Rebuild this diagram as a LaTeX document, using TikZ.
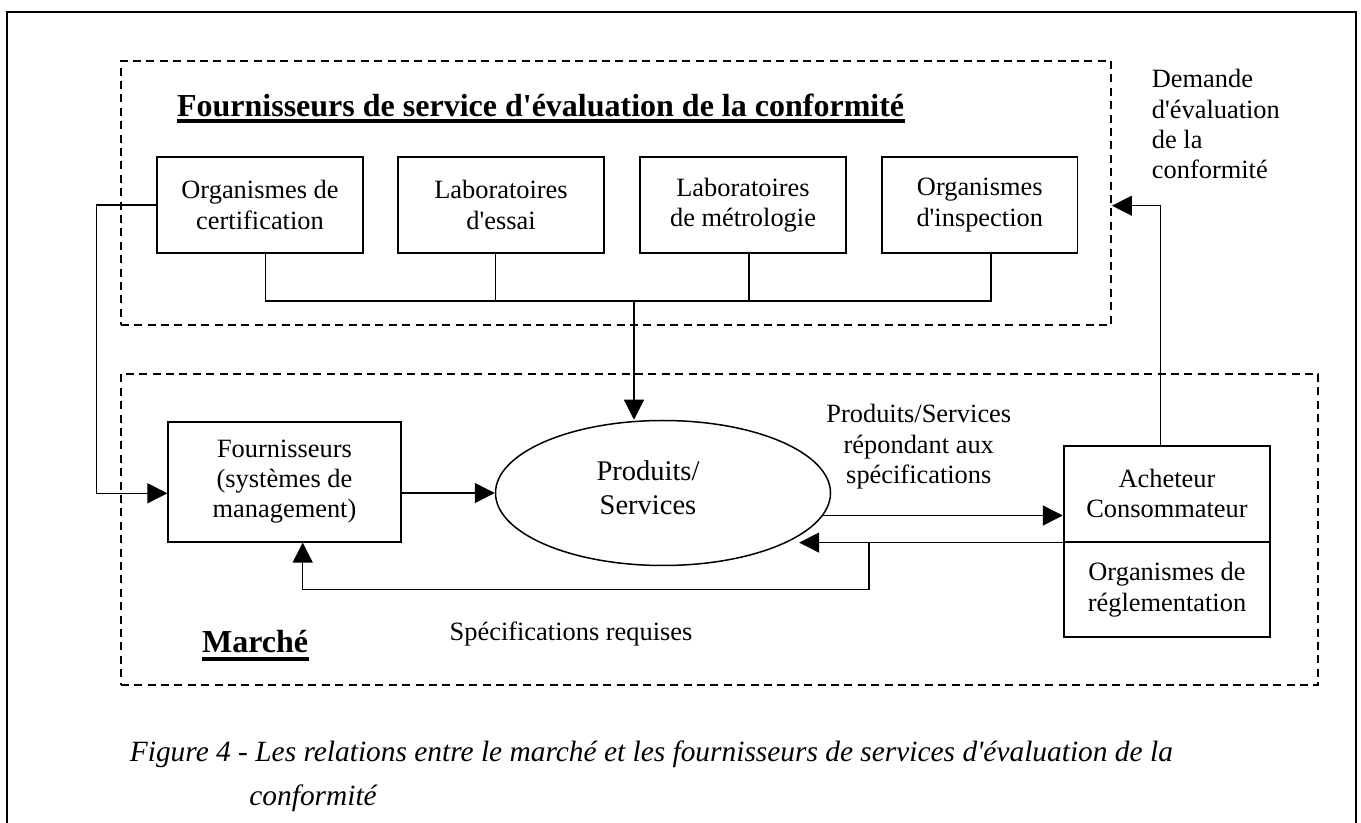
\documentclass[tikz,border=0pt]{standalone}
\usepackage{fontspec}
\setmainfont{Liberation Serif}[Ligatures=TeXOff]
\usetikzlibrary{arrows.meta,shapes.geometric}
\begin{document}
\begin{tikzpicture}[x=0.5pt,y=-0.5pt,
  box/.style={draw,line width=0.9pt,inner sep=0pt,align=center,font=\fontsize{13.2}{15.2}\selectfont},
  zone/.style={draw,line width=0.95pt,dash pattern=on 4pt off 2.7pt,inner sep=0pt},
  link/.style={line width=0.7pt},
  arr/.style={link,-{Triangle[length=10pt,width=10pt]}},
  txt/.style={inner sep=0pt,align=center,font=\fontsize{13.2}{15.2}\selectfont},
  head/.style={inner sep=0pt,font=\fontsize{16}{18}\selectfont\bfseries},
  captext/.style={inner sep=0pt,font=\fontsize{14.7}{21.5}\selectfont\itshape}]
\useasboundingbox (0,0) rectangle (1361,823);
% outer frame
\draw[line width=1.2pt] (7,823) -- (7,12) -- (1356,12) -- (1356,823);

% the two dashed zones
\node[zone,minimum width=495.15pt,minimum height=132pt] (topzone) at (615.85,193) {};
\node[zone,minimum width=598.85pt,minimum height=155.5pt] (botzone) at (719.55,529.5) {};

% headings
\node[head,anchor=base west] (title) at (176.7,116.7) {Fournisseurs de service d'évaluation de la conformité};
\draw[line width=1.6pt] ([yshift=-2.2pt]title.base west) -- ([yshift=-2.2pt]title.base east);
\node[head,anchor=base west] (marche) at (201.7,652.7) {Marché};
\draw[line width=1.6pt] ([yshift=-3.1pt]marche.base west) -- ([yshift=-3.1pt]marche.base east);

% assessment bodies
\node[box,minimum width=102.7pt,minimum height=47.7pt] (b1) at (260,205) {Organismes de\\certification};
\node[box,minimum width=103pt,minimum height=47.7pt] (b2) at (501,205) {Laboratoires\\d'essai};
\node[box,minimum width=103pt,minimum height=47.7pt] (b3) at (743,205) {Laboratoires\\de métrologie};
\node[box,minimum width=97.75pt,minimum height=47.7pt] (b4) at (979.75,205) {Organismes\\d'inspection};

% bus joining the four bodies
\coordinate (j1) at (265.7,301);
\coordinate (j2) at (495.5,301);
\coordinate (j3) at (749,301);
\coordinate (j4) at (991,301);
\coordinate (jm) at (634,301);
\draw[link] (b1.south -| j1) -- (j1) -- (j4) -- (b4.south -| j4);
\draw[link] (b2.south -| j2) -- (j2);
\draw[link] (b3.south -| j3) -- (j3);

% market
\node[box,minimum width=116.2pt,minimum height=60pt] (four) at (284.5,481.7) {Fournisseurs\\(systèmes de\\management)};
\node[draw,ellipse,line width=0.75pt,inner sep=0pt,minimum width=167.5pt,minimum height=72.5pt] (ell) at (663,493) {};
\node[inner sep=0pt,align=center,font=\fontsize{14.25}{17}\selectfont] (ps) at (648,488) {Produits/\\Services};
\node[box,minimum width=103.35pt,minimum height=48pt] (ach) at (1167,493.7) {Acheteur\\Consommateur};
\node[box,minimum width=103.35pt,minimum height=47.8pt] (reg) at (1167,589.5) {Organismes de\\réglementation};

% labels
\node[txt] (resp) at (918.8,447) {Produits/Services\\répondant aux\\spécifications};
\node[txt,anchor=west] (spec) at (449.3,634) {Spécifications requises};
\node[txt,align=left,anchor=north west] (dem) at (1151.5,69) {Demande\\d'évaluation\\de la\\conformité};

% flows
\draw[arr] (jm) -- (jm |- ell.north);
\coordinate (lc) at (96.7,493.3);
\draw[arr] (b1.west) -| (lc) -- (lc -| four.west);
\draw[arr] (four.east |- ell.west) -- (ell.west);
\draw[arr] (ell.-8.74) -- (ell.-8.74 -| ach.west);
\draw[arr,shorten >=5pt] (ach.south west) -- (ach.south west -| ell.-21.44);
\coordinate (lp) at (869,541.7);
\coordinate (lq) at (302.7,589.3);
\draw[arr] (lp) |- (lq) -- (lq |- four.south);
\coordinate (rq) at (1160.5,205.7);
\draw[arr] (ach.north -| rq) -- (rq) -- (rq -| topzone.east);

% caption
\node[captext,anchor=base west] (cap1) at (129.5,761.7) {Figure 4 - Les relations entre le marché et les fournisseurs de services d'évaluation de la};
\node[captext,anchor=base west] (cap2) at (249,805) {conformité};
\end{tikzpicture}
\end{document}
